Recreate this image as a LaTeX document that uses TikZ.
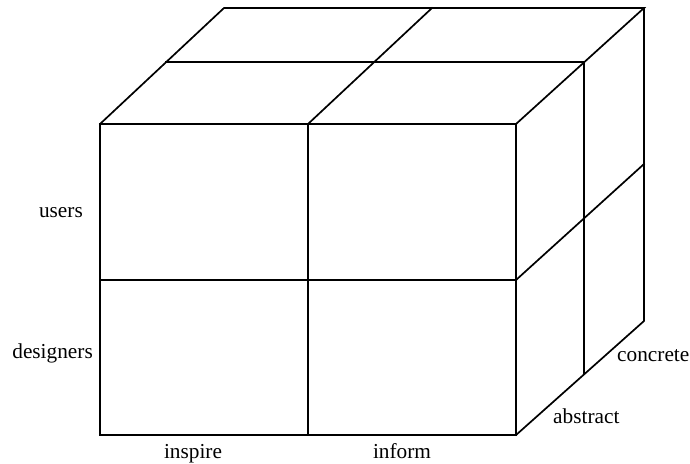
\documentclass[tikz,border=0pt]{standalone}
\usepackage{fontspec}
\setmainfont{Liberation Serif}
\begin{document}
\begin{tikzpicture}[x=1pt,y=-1pt,
  edge/.style={line width=1.7pt,line join=miter,line cap=rect},
  lbl/.style={font=\fontsize{21.3}{25}\selectfont,inner sep=0pt}]
\useasboundingbox (0,0) rectangle (690,463);
% front face corners
\coordinate (FTL) at (100,124);
\coordinate (FTM) at (308,124);
\coordinate (FTR) at (516,124);
\coordinate (FML) at (100,280);
\coordinate (FMR) at (516,280);
\coordinate (FBL) at (100,435);
\coordinate (FBM) at (308,435);
\coordinate (FBR) at (516,435);
% middle depth
\coordinate (MTL) at (166,62);
\coordinate (MTR) at (584,62);
\coordinate (MMR) at (584,218);
\coordinate (MBR) at (584,374);
% back
\coordinate (BTL) at (224,8);
\coordinate (BTM) at (432,8);
\coordinate (BTR) at (644,8);
\coordinate (BMR) at (644,164);
\coordinate (BBR) at (644,321);
% front face
\draw[edge] (FTL) rectangle (FBR);
\draw[edge] (FTM) -- (FBM);
\draw[edge] (FML) -- (FMR);
% top face
\draw[edge] (FTL) -- (BTL) -- (BTR) -- (FTR);
\draw[edge] (FTM) -- (BTM);
\draw[edge] (MTL) -- (MTR);
% right face
\draw[edge] (BTR) -- (BBR) -- (FBR);
\draw[edge] (MTR) -- (MBR);
\draw[edge] (FMR) -- (BMR);
% labels
\node[lbl,anchor=east] (users) at (83,213) {users};
\node[lbl,anchor=east] (designers) at (93,353) {designers};
\node[lbl,anchor=base] (inspire) at (193,458) {inspire};
\node[lbl,anchor=base] (inform) at (402,458) {inform};
\node[lbl,anchor=west] (concrete) at (617,356) {concrete};
\node[lbl,anchor=west] (abstract) at (553,416) {abstract};
\end{tikzpicture}
\end{document}
